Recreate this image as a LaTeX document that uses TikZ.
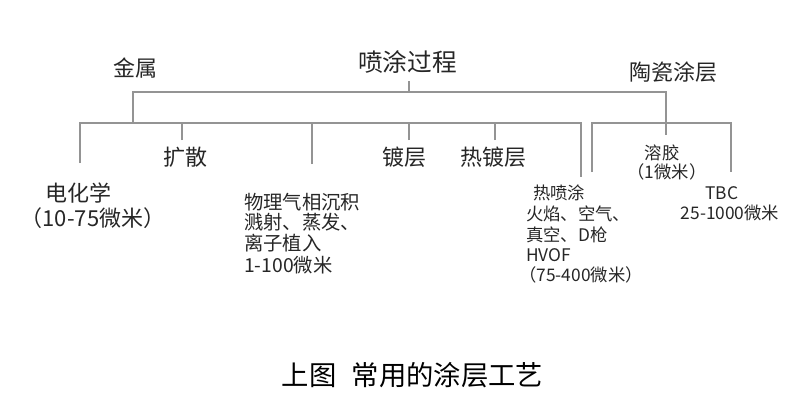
\documentclass[tikz,border=0pt]{standalone}
\usepackage{fontspec}
\setmainfont{Noto Sans CJK SC}
\usepackage{tikz}
\usetikzlibrary{calc}

\tikzset{
  bar/.style={draw=black!42, line width=1.5pt},
  head/.style={inner sep=0.75pt, text=black!85, font=\fontsize{16.5}{19}\selectfont},
  mid/.style={inner sep=0.75pt, text=black!85, font=\fontsize{14.5}{17}\selectfont},
  small/.style={inner sep=0.75pt, text=black!85, font=\fontsize{13}{15}\selectfont},
}

\begin{document}
\begin{tikzpicture}[x=0.75pt,y=0.75pt,yscale=-1,xscale=1]
      \useasboundingbox (0,0) rectangle (804,415);
      % 连线端点
      \coordinate (procS) at (409,81);
      \coordinate (procJ) at (409,92);
      \coordinate (metJ) at (133,92);
      \coordinate (cerJ) at (666,92);
      \coordinate (cerB) at (666,135);
      \coordinate (barR) at (581,122.5);
      \coordinate (elecT) at (80,163);
      \coordinate (diffT) at (182,140);
      \coordinate (pvdT) at (312,164);
      \coordinate (platT) at (409,140);
      \coordinate (hotT) at (495,140);
      \coordinate (sprayT) at (581,177);
      \coordinate (solT) at (592,172);
      \coordinate (tbcT) at (731,172);
      % 树形连线
      \draw [bar] (procS) -- (procJ);
      \draw [bar] (metJ |- barR) -- (metJ) -- (cerJ) -- (cerB);
      \draw [bar] (elecT) |- (barR) -- (sprayT);
      \draw [bar] (diffT) -- (diffT |- barR);
      \draw [bar] (pvdT) -- (pvdT |- barR);
      \draw [bar] (platT) -- (platT |- barR);
      \draw [bar] (hotT) -- (hotT |- barR);
      \draw [bar] (solT) |- (tbcT |- barR) -- (tbcT);
      % 文字
      \draw (407.5,62.5) node (proc) [head, font=\fontsize{18.5}{21}\selectfont] {喷涂过程};
      \draw (135,68) node (metal) [head] {金属};
      \draw (673,72) node (ceram) [head] {陶瓷涂层};
      \draw (185,157) node (diff) [head] {扩散};
      \draw (404,157) node (plat) [head] {镀层};
      \draw (493,157) node (hot) [head] {热镀层};
      \draw (78.5,193) node (elec) [head] {电化学};
      \draw (93,218) node (elecu) [head] {（10-75微米）};
      \draw (243,202) node (pvda) [mid, anchor=west] {物理气相沉积};
      \draw (243,222) node (pvdb) [mid, anchor=west] {溅射、蒸发、};
      \draw (243,243) node (pvdc) [mid, anchor=west] {离子植入};
      \draw (243,265) node (pvdd) [mid, anchor=west] {1-100微米};
      \draw (559,193) node (spray) [small] {热喷涂};
      \draw (525,214) node (spraya) [small, anchor=west] {火焰、空气、};
      \draw (525,234.5) node (sprayb) [small, anchor=west] {真空、D枪};
      \draw (525,255) node (sprayc) [small, anchor=west] {HVOF};
      \draw (518,275) node (sprayd) [small, anchor=west] {（75-400微米）};
      \draw (662,153) node (sol) [small] {溶胶};
      \draw (667,172) node (solu) [small] {（1微米）};
      \draw (722,193) node (tbc) [small] {TBC};
      \draw (730,213) node (tbcu) [small] {25-1000微米};
      \draw (412.5,375) node (cap) [inner sep=0.75pt, text=black, font=\fontsize{20.5}{24}\selectfont] {上图\hspace{0.55em}常用的涂层工艺};
\end{tikzpicture}
\end{document}
